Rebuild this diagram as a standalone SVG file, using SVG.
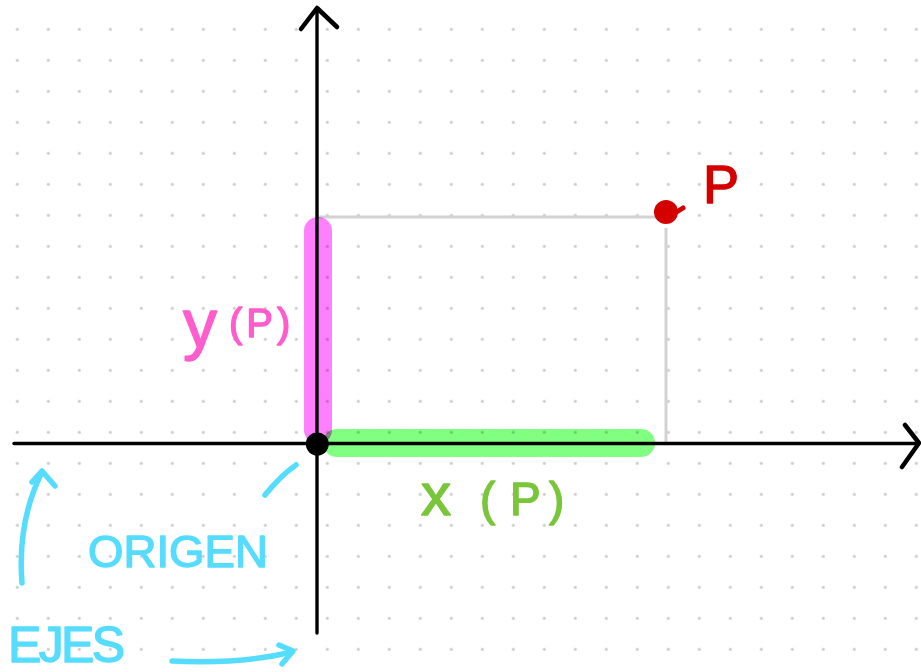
<svg xmlns="http://www.w3.org/2000/svg" width="921" height="672" viewBox="0 0 921 672">
  <style>
    .axis { stroke: #000; stroke-width: 3.4; fill: none; stroke-linecap: round; stroke-linejoin: round; }
    .head { stroke: #000; stroke-width: 4.5; fill: none; stroke-linecap: round; stroke-linejoin: round; }
    .guide { stroke: #d2d2d2; stroke-width: 3; fill: none; }
    .hl { fill: none; stroke-linecap: round; stroke-width: 28; mix-blend-mode: multiply; }
    .cyan { stroke: #55dcff; stroke-width: 5.5; fill: none; stroke-linecap: round; stroke-linejoin: round; }
    .hand { font-family: "Liberation Sans", "DejaVu Sans", sans-serif; stroke-linejoin: round; stroke-linecap: round; stroke-width: 1.4; }
    .cyantext { fill: #55dcff; stroke: #55dcff; }
  </style>
  <defs>
    <pattern id="dots" x="1.8" y="13.8" width="31" height="31" patternUnits="userSpaceOnUse">
      <circle cx="15.5" cy="15.5" r="1.6" fill="#cccccc"/>
    </pattern>
  </defs>

  <rect width="921" height="672" fill="#ffffff"/>
  <rect width="921" height="672" fill="url(#dots)"/>

  <g id="guides">
    <line class="guide" x1="317" y1="217" x2="662" y2="217"/>
    <line class="guide" x1="666" y1="228" x2="666" y2="443"/>
  </g>

  <g id="highlights">
    <line class="hl" stroke="#80ff80" x1="337" y1="443" x2="641" y2="443"/>
    <line class="hl" stroke="#ff80ff" x1="318" y1="231" x2="318" y2="430"/>
  </g>

  <g id="axes">
    <line class="axis" x1="14" y1="443.5" x2="918" y2="443.5"/>
    <polyline class="head" points="905,425 919,443 902,467"/>
    <line class="axis" x1="317" y1="9" x2="317" y2="633"/>
    <polyline class="head" points="301,29 317,8 337,27"/>
  </g>

  <g id="origin">
    <circle cx="317.3" cy="444" r="11.5" fill="#000"/>
  </g>

  <g id="point-P">
    <circle cx="666" cy="212" r="12" fill="#d40000"/>
    <path d="M675,213 L683,208" stroke="#d40000" stroke-width="5" stroke-linecap="round"/>
    <text class="hand" x="703" y="203" font-size="54" fill="#d40000" stroke="#d40000">P</text>
  </g>

  <g id="label-y">
    <text class="hand" fill="#ff5ccd" stroke="#ff5ccd"><tspan x="183" y="347" font-size="68">y</tspan><tspan x="229" y="337" font-size="40" letter-spacing="4">(P)</tspan></text>
  </g>

  <g id="label-x">
    <text class="hand" y="515" fill="#79c63a" stroke="#79c63a" font-size="46"><tspan x="421" font-size="60">x</tspan><tspan x="480">(</tspan><tspan x="510">P</tspan><tspan x="549">)</tspan></text>
  </g>

  <g id="label-origen">
    <text class="hand cyantext" x="88" y="567" font-size="45" textLength="180" lengthAdjust="spacingAndGlyphs">ORIGEN</text>
  </g>

  <g id="label-ejes">
    <text class="hand cyantext" x="8" y="662" font-size="50" textLength="117" lengthAdjust="spacing">EJES</text>
  </g>

  <g id="connectors">
    <path class="cyan" d="M265,495 C274,484 284,473 296,465"/>
    <path class="cyan" d="M22,583 C19,545 25,506 42,472"/>
    <polyline class="cyan" points="32,482 42,471 55,486"/>
    <path class="cyan" d="M172,661 C215,663 255,661 292,652"/>
    <polyline class="cyan" points="279,645 293,651 282,664"/>
  </g>
</svg>
